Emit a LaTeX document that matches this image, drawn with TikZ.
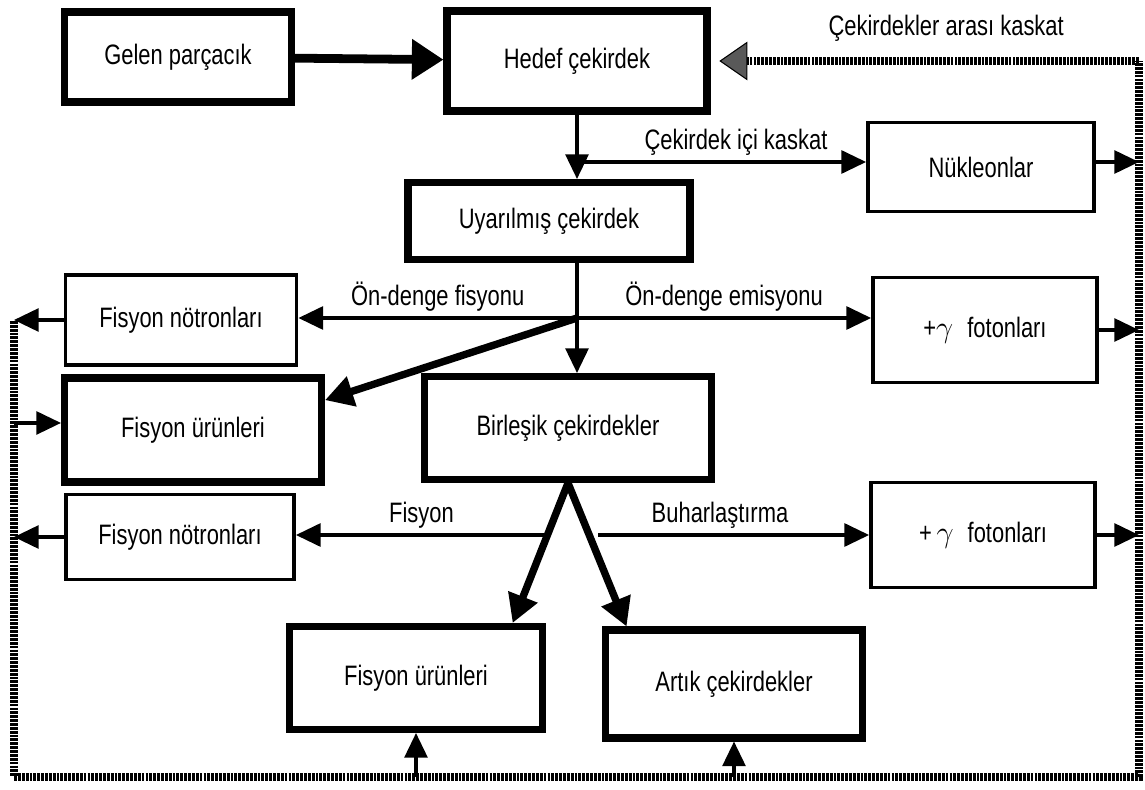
\documentclass[tikz,border=0pt]{standalone}
\usepackage{fontspec}
\setmainfont{Liberation Sans}[FakeStretch=0.78]
\usetikzlibrary{arrows.meta}
\newcommand{\px}{0.02cm}
\newcommand{\txt}{\fontsize{16}{19}\selectfont}
\tikzset{
    common/.style={draw, rectangle, align=center, font=\txt},
    size/.style 2 args={minimum width=#1*\px, minimum height=#2*\px},
    box/.style={common, line width=2.2pt},
    heavybox/.style={common, line width=4pt},
    flow/.style={line width=1.8pt, -{Triangle[length=14pt, width=13pt]}},
    heavyflow/.style={line width=4.2pt, -{Triangle[length=16pt, width=17pt]}},
    bigflow/.style={line width=5pt, -{Triangle[length=18pt, width=22pt]}},
    cascade/.style={line width=4.6pt, dash pattern=on 1.6pt off 0.6pt},
    tag/.style={font=\txt, above, inner sep=3pt}
}
\begin{document}
\begin{tikzpicture}[x=\px, y=-\px]
    \useasboundingbox (0,0) rectangle (1145,790);

    \node[heavybox, size={227}{90}] (gelen) at (178,57) {Gelen parçacık};
    \node[heavybox, size={260}{100}] (hedef) at (577,61) {Hedef çekirdek};
    \node[box, size={226}{89}] (nukleon) at (981,167) {Nükleonlar};
    \node[heavybox, size={282}{77}] (uyarilmis) at (549,221) {Uyarılmış çekirdek};
    \node[box, size={231}{90}] (notronA) at (181,320) {Fisyon nötronları};
    \node[box, size={224}{105}] (fotonA) at (985,330) {+$\gamma$\enspace fotonları};
    \node[heavybox, size={257}{104}] (urunA) at (193,430) {Fisyon ürünleri};
    \node[heavybox, size={287}{103}] (birlesik) at (568,428) {Birleşik çekirdekler};
    \node[box, size={228}{85}] (notronB) at (180,537) {Fisyon nötronları};
    \node[box, size={224}{105}] (fotonB) at (983,535) {+\,$\gamma$\enspace fotonları};
    \node[heavybox, size={253}{103}] (urunB) at (416,678) {Fisyon ürünleri};
    \node[heavybox, size={257}{108}] (artik) at (734,684) {Artık çekirdekler};

    % branch points
    \coordinate (kaskat) at (577,162);
    \coordinate (denge) at (577,318);
    \coordinate (fisL) at (547,535);
    \coordinate (buhR) at (598,535);
    % outer loop corners
    \coordinate (loopNE) at (1139,61);
    \coordinate (loopSE) at (1139,777);
    \coordinate (loopSW) at (14,777);
    \coordinate (loopNW) at (14,321);

    \draw[bigflow] (gelen) -- (hedef);
    \draw[flow] (hedef.south) -- (hedef.south |- uyarilmis.north);
    \draw[flow] (kaskat) -- node[tag, pos=0.55]{Çekirdek içi kaskat} (kaskat -| nukleon.west);
    \draw[flow] (uyarilmis.south -| denge) -- (denge |- birlesik.north);
    \draw[flow] (denge) -- node[tag]{Ön-denge fisyonu} (denge -| notronA.east);
    \draw[flow] (denge) -- node[tag]{Ön-denge emisyonu} (denge -| fotonA.west);
    \draw[heavyflow] (denge) -- ([yshift=17pt]urunA.east);
    \draw[heavyflow] (birlesik.south) -- ([xshift=55pt]urunB.north);
    \draw[heavyflow] (birlesik.south) -- ([xshift=14pt]artik.north west);
    \draw[flow] (fisL) -- node[tag]{Fisyon} (fisL -| notronB.east);
    \draw[flow] (buhR) -- node[tag, pos=0.45]{Buharlaştırma} (buhR -| fotonB.west);

    % cascade back to the target
    \draw[cascade] (loopNW) -- (loopSW) -- (loopSE) -- (loopNE);
    \draw[cascade, -{Triangle[length=16pt, width=22pt, fill=black!65, line width=0.6pt]}, shorten >=5pt]
      (loopNE) -- node[tag, pos=0.45, yshift=6pt]{Çekirdekler arası kaskat} (hedef.east);

    \draw[flow] (nukleon.east |- kaskat) -- (kaskat -| loopNE);
    \draw[flow] (fotonA.east) -- (fotonA.east -| loopNE);
    \draw[flow] (fotonB.east) -- (fotonB.east -| loopNE);
    \draw[flow] (notronA.west) -- (notronA.west -| loopNW);
    \draw[flow] (notronB.west) -- (notronB.west -| loopNW);
    \draw[flow] ([yshift=4pt]urunA.west -| loopNW) -- ([yshift=4pt]urunA.west);
    \draw[flow] (urunB.south |- loopSW) -- (urunB.south);
    \draw[flow] (artik.south |- loopSW) -- (artik.south);
\end{tikzpicture}
\end{document}
